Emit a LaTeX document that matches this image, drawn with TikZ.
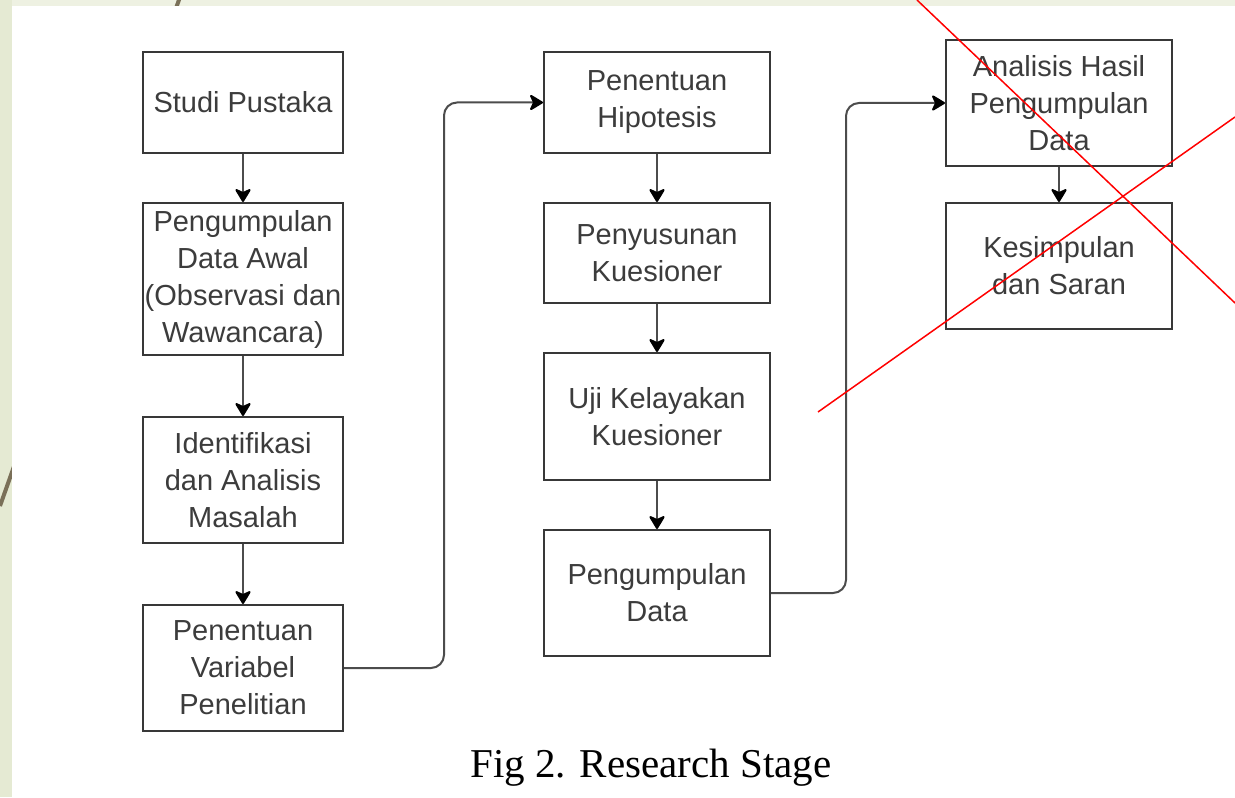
\documentclass[tikz,border=0pt]{standalone}
\usepackage{fontspec}
\setmainfont{Liberation Sans}
\newfontfamily\captionfont{Liberation Serif}
\usetikzlibrary{arrows.meta}

\definecolor{slidegreen}{HTML}{E5EAD3}
\definecolor{slidetop}{HTML}{EEF1E2}
\definecolor{slideline}{HTML}{7A7058}
\definecolor{boxline}{HTML}{383838}
\definecolor{boxtext}{HTML}{3C3C3C}

\begin{document}
\begin{tikzpicture}[x=0.5pt, y=-0.5pt,
    stage/.style={draw=boxline, line width=1pt, text=boxtext, align=center,
        inner sep=0pt, minimum width=100pt,
        font=\fontsize{14.5}{18.5}\selectfont},
    widestage/.style={stage, minimum width=113pt},
    flow/.style={draw=boxline!90, line width=1pt,
        -{Stealth[length=7.5pt, width=9pt, inset=2pt, round, color=black]}},
    cross/.style={red, line width=0.75pt}]
    \useasboundingbox (0,0) rectangle (1235,797);

    % slide background
    \fill[slidetop] (0,0) rectangle (1235,6);
    \fill[slidegreen] (0,0) rectangle (12,797);
    \draw[slideline, line width=2pt] (0,506) -- (180,-3);
    \fill[white] (12,6) rectangle (1235,797);

    % first column
    \node[stage, minimum height=50.5pt] (studi) at (243,102.5) {Studi Pustaka};
    \node[stage, minimum height=76pt] (awal) at (243,279) {Pengumpulan\\Data Awal\\(Observasi dan\\Wawancara)};
    \node[stage, minimum height=63pt] (identifikasi) at (243,480) {Identifikasi\\dan Analisis\\Masalah};
    \node[stage, minimum height=63pt] (variabel) at (243,668) {Penentuan\\Variabel\\Penelitian};

    % second column
    \node[widestage, minimum height=50.5pt] (hipotesis) at (657,102.5) {Penentuan\\Hipotesis};
    \node[widestage, minimum height=50pt] (penyusunan) at (657,253) {Penyusunan\\Kuesioner};
    \node[widestage, minimum height=63.5pt] (uji) at (657,416.5) {Uji Kelayakan\\Kuesioner};
    \node[widestage, minimum height=63pt] (pengumpulan) at (657,593) {Pengumpulan\\Data};

    % third column
    \node[widestage, minimum height=62.5pt] (analisis) at (1059,103) {Analisis Hasil\\Pengumpulan\\Data};
    \node[widestage, minimum height=63pt] (kesimpulan) at (1059,266) {Kesimpulan\\dan Saran};

    \draw[flow] (studi) -- (awal);
    \draw[flow] (awal) -- (identifikasi);
    \draw[flow] (identifikasi) -- (variabel);
    \draw[flow, rounded corners=6.5pt] (variabel.east) -- ++(100,0) |- (hipotesis.west);
    \draw[flow] (hipotesis) -- (penyusunan);
    \draw[flow] (penyusunan) -- (uji);
    \draw[flow] (uji) -- (pengumpulan);
    \draw[flow, rounded corners=6.5pt] (pengumpulan.east) -- ++(75,0) |- (analisis.west);
    \draw[flow] (analisis) -- (kesimpulan);

    \node[font=\captionfont\fontsize{20.5}{24}\selectfont] (caption) at (651,768) {Fig 2. Research Stage};

    % crossed out
    \begin{scope}
        \clip (0,0) rectangle (1235,797);
        \draw[cross] (917,0) -- (1235,303);
        \draw[cross] (818,412) -- (1235,117);
    \end{scope}
\end{tikzpicture}
\end{document}
